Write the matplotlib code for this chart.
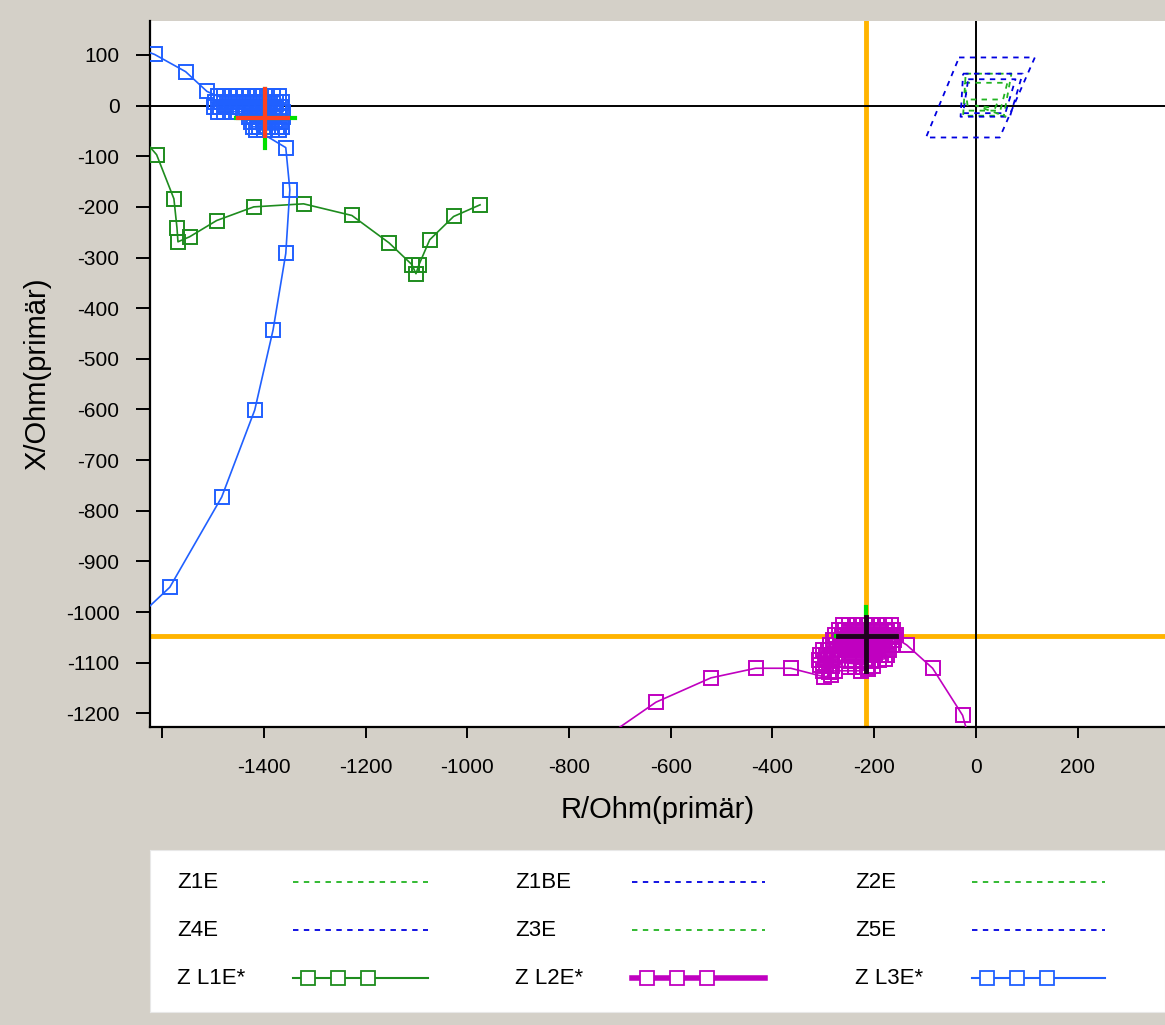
import numpy as np
import matplotlib
matplotlib.use("Agg")
import matplotlib.pyplot as plt

plt.rcParams['font.family'] = ['Liberation Sans', 'DejaVu Sans']
plt.rcParams['axes.unicode_minus'] = False

# trajectories (R, X) in Ohm primary
# Z L3E*: approach, dense fault cluster, departure
l3e_head_r = [-1680, -1615, -1554, -1512]
l3e_head_x = [125, 101, 67, 28]
l3e_blob_r = [-1490, -1478, -1466, -1454, -1442, -1430, -1418, -1406, -1394, -1382, -1370,
              -1364, -1376, -1388, -1400, -1412, -1424, -1436, -1448, -1460, -1472, -1484, -1496,
              -1498, -1486, -1474, -1462, -1450, -1438, -1426, -1414, -1402, -1390, -1378, -1366,
              -1362, -1370, -1382, -1394, -1406, -1418, -1430, -1442, -1454, -1466, -1478, -1490,
              -1430, -1420, -1410, -1400, -1390, -1380, -1370, -1362,
              -1366, -1378, -1390, -1402, -1414, -1426,
              -1422, -1410, -1398, -1386, -1374, -1364,
              -1370, -1385, -1400, -1415]
l3e_blob_x = [18, 18, 18, 18, 18, 18, 18, 18, 18, 18, 18,
              8, 8, 8, 8, 8, 8, 8, 8, 8, 8, 8, 8,
              -2, -2, -2, -2, -2, -2, -2, -2, -2, -2, -2, -2,
              -12, -12, -12, -12, -12, -12, -12, -12, -12, -12, -12, -12,
              -22, -22, -22, -22, -22, -22, -22, -22,
              -32, -32, -32, -32, -32, -32,
              -42, -42, -42, -42, -42, -42,
              -48, -48, -48, -48]
l3e_tail_r = [-1357, -1349, -1357, -1382, -1418, -1483, -1585, -1690]
l3e_tail_x = [-83, -166, -292, -443, -601, -773, -951, -1050]
l3e_r = l3e_head_r + l3e_blob_r + l3e_tail_r
l3e_x = l3e_head_x + l3e_blob_x + l3e_tail_x

l1e_r = [-1660, -1611, -1577, -1571, -1569, -1546, -1493, -1420, -1322, -1227,
         -1154, -1109, -1101, -1095, -1074, -1027, -975]
l1e_x = [-40, -97, -184, -241, -269, -259, -227, -200, -194, -217,
         -271, -314, -332, -314, -265, -219, -196]

# Z L2E*
l2e_head_r = [-740, -629, -521, -433, -364]
l2e_head_x = [-1255, -1178, -1130, -1111, -1111]
l2e_blob_r = [-298, -285,
              -300, -288, -276, -225, -212,
              -306, -294, -282, -250, -238, -226, -214, -202,
              -308, -296, -284, -272, -250, -238, -226, -214, -202, -190, -178,
              -175, -186, -198, -210, -222, -234, -246, -258, -270, -282, -294, -306,
              -300, -290, -278, -266, -254, -242, -230, -218, -206, -194, -182, -170,
              -165, -178, -190, -202, -214, -226, -238, -250, -262, -274, -286,
              -280, -268, -256, -244, -232, -220, -208, -196, -184, -172, -160,
              -157, -168, -180, -192, -204, -216, -228, -240, -252, -264, -276,
              -270, -258, -246, -234, -222, -210, -198, -186, -174, -162,
              -166, -178, -190, -202, -214, -226, -238, -250, -262,
              -160]
l2e_blob_x = [-1128, -1125,
              -1116, -1118, -1116, -1116, -1112,
              -1105, -1106, -1106, -1108, -1108, -1108, -1108, -1106,
              -1095, -1095, -1095, -1095, -1096, -1096, -1096, -1096, -1096, -1094, -1092,
              -1085, -1085, -1085, -1085, -1085, -1085, -1085, -1085, -1085, -1085, -1085, -1085,
              -1075, -1075, -1075, -1075, -1075, -1075, -1075, -1075, -1075, -1075, -1075, -1075,
              -1065, -1065, -1065, -1065, -1065, -1065, -1065, -1065, -1065, -1065, -1065,
              -1055, -1055, -1055, -1055, -1055, -1055, -1055, -1055, -1055, -1055, -1055,
              -1045, -1045, -1045, -1045, -1045, -1045, -1045, -1045, -1045, -1045, -1045,
              -1035, -1035, -1035, -1035, -1035, -1035, -1035, -1035, -1035, -1035,
              -1025, -1025, -1025, -1025, -1025, -1025, -1025, -1025, -1025,
              -1050]
l2e_tail_r = [-136, -85, -26, -12]
l2e_tail_x = [-1065, -1111, -1204, -1255]
l2e_r = l2e_head_r + l2e_blob_r + l2e_tail_r
l2e_x = l2e_head_x + l2e_blob_x + l2e_tail_x

# protection zones (closed polygons)
z1e_r = [-22, 62, 48, -15, -22]
z1e_x = [45, 45, -10, -10, 45]
z1be_r = [-15, 78, 58, -25, -15]
z1be_x = [52, 52, -15, -15, 52]
z2e_r = [-20, 70, 55, -25, -20]
z2e_x = [63, 63, -20, -20, 63]
z4e_r = [-25, 92, 67, -30, -25]
z4e_x = [63, 63, -22, -22, 63]
z3e_r = [-10, 45, 38, 0, 60]
z3e_x = [12, 12, -5, 0, -22]
z5e_r = [-33, 116, 47, -98, -33]
z5e_x = [95, 95, -63, -63, 95]

# cursor crosses
l3_cross_r, l3_cross_x = -1398, -24
l3_cross_green_h = [-1455, -1339]
l3_cross_green_v = [32, -83]
l3_cross_red_h = [-1451, -1353]
l3_cross_red_v = [32, -61]
l2_cross_r, l2_cross_x = -216, -1047
l2_cross_green_h = [-275, -157]
l2_cross_green_v = [-990, -1047]
l2_cross_black_h = [-272, -157]
l2_cross_black_v = [-1010, -1116]

cursor_r = -216
cursor_x = -1047

xticks = [-1600, -1400, -1200, -1000, -800, -600, -400, -200, 0, 200]
xticklabels = ['', '-1400', '-1200', '-1000', '-800', '-600', '-400', '-200', '0', '200']
yticks = list(range(100, -1300, -100))

bg = '#d4d0c8'
c_l1 = '#1e8c1e'
c_l2 = '#c000c0'
c_l3 = '#2060ff'
c_zg = '#22b422'
c_zb = '#0000e0'
c_cur = '#ffb400'

W, H = 1165, 1025
fig = plt.figure(figsize=(W / 100, H / 100), dpi=100, facecolor=bg)
ax = fig.add_axes([150 / W, (H - 727) / H, (W - 150) / W, (727 - 21) / H])
ax.set_facecolor('white')

ax.axvline(cursor_r, color=c_cur, lw=3.5, zorder=1)
ax.axhline(cursor_x, color=c_cur, lw=3.5, zorder=1)
ax.axvline(0, color='black', lw=1.4, zorder=1.5)
ax.axhline(0, color='black', lw=1.4, zorder=1.5)

dash = (0, (3, 3))
zones = [(z1e_r, z1e_x, c_zg, 'Z1E'), (z1be_r, z1be_x, c_zb, 'Z1BE'),
         (z2e_r, z2e_x, c_zg, 'Z2E'), (z4e_r, z4e_x, c_zb, 'Z4E'),
         (z3e_r, z3e_x, c_zg, 'Z3E'), (z5e_r, z5e_x, c_zb, 'Z5E')]
for zr, zx, c, name in zones:
    ax.plot(zr, zx, color=c, lw=1.3, ls=dash, zorder=2)

mk = dict(marker='s', ms=10.5, mfc='none', mew=1.4)
ax.plot(l1e_r, l1e_x, color=c_l1, lw=1.2, zorder=3, **mk)
ax.plot(l2e_r, l2e_x, color=c_l2, lw=1.2, zorder=3, **mk)
ax.plot(l3e_r, l3e_x, color=c_l3, lw=1.2, zorder=3, **mk)

# crosses
ax.plot(l3_cross_green_h, [l3_cross_x] * 2, color='#00e000', lw=3, zorder=4)
ax.plot([l3_cross_r] * 2, l3_cross_green_v, color='#00e000', lw=3, zorder=4)
ax.plot(l3_cross_red_h, [l3_cross_x] * 2, color='#ff4020', lw=3, zorder=5)
ax.plot([l3_cross_r] * 2, l3_cross_red_v, color='#ff4020', lw=3, zorder=5)
ax.plot(l2_cross_green_h, [l2_cross_x] * 2, color='#00e000', lw=3, zorder=4)
ax.plot([l2_cross_r] * 2, l2_cross_green_v, color='#00e000', lw=3, zorder=4)
ax.plot(l2_cross_black_h, [l2_cross_x] * 2, color='#200020', lw=3.5, zorder=5)
ax.plot([l2_cross_r] * 2, l2_cross_black_v, color='#200020', lw=3.5, zorder=5)

ax.set_xlim(-1624, 372)
ax.set_ylim(-1227, 167)
ax.set_xticks(xticks)
ax.set_xticklabels(xticklabels)
ax.set_yticks(yticks)
ax.set_yticklabels([str(v) for v in yticks])
ax.tick_params(axis='x', length=8, width=1.4, pad=14, labelsize=15)
ax.tick_params(axis='y', length=10, width=1.4, pad=12, labelsize=15)
for s in ['top', 'right']:
    ax.spines[s].set_visible(False)
for s in ['left', 'bottom']:
    ax.spines[s].set_linewidth(1.6)
ax.set_xlabel('R/Ohm(primär)', fontsize=21, labelpad=14)
ax.set_ylabel('X/Ohm(primär)', fontsize=21, labelpad=10)

# legend panel
lg = fig.add_axes([150 / W, (H - 1012) / H, (W - 150) / W, (1012 - 850) / H])
lg.set_xlim(150, 1165)
lg.set_ylim(1012, 850)
lg.set_xticks([])
lg.set_yticks([])
for s in lg.spines.values():
    s.set_edgecolor('#e8e8e8')

leg_names = ['Z1E', 'Z1BE', 'Z2E', 'Z4E', 'Z3E', 'Z5E', 'Z L1E*', 'Z L2E*', 'Z L3E*']
leg_colors = [c_zg, c_zb, c_zg, c_zb, c_zg, c_zb, c_l1, c_l2, c_l3]
col_text = [177, 515, 855]
col_line = [(293, 428), (632, 765), (972, 1105)]
row_y = [882, 930, 978]
for i, name in enumerate(leg_names):
    r, c = divmod(i, 3)
    y = row_y[r]
    lg.text(col_text[c], y, name, fontsize=16, va='center', ha='left')
    x0, x1 = col_line[c]
    if r < 2:
        lg.plot([x0, x1], [y, y], color=leg_colors[i], lw=1.3, ls=dash)
    else:
        lw = 4 if name == 'Z L2E*' else 1.5
        lg.plot([x0, x1], [y, y], color=leg_colors[i], lw=lw)
        lg.plot([x0 + 15, x0 + 45, x0 + 75], [y, y, y], ls='none',
                color=leg_colors[i], marker='s', ms=10.5, mfc='white', mew=1.3)

fig.savefig('out.png', dpi=100, facecolor=bg)
